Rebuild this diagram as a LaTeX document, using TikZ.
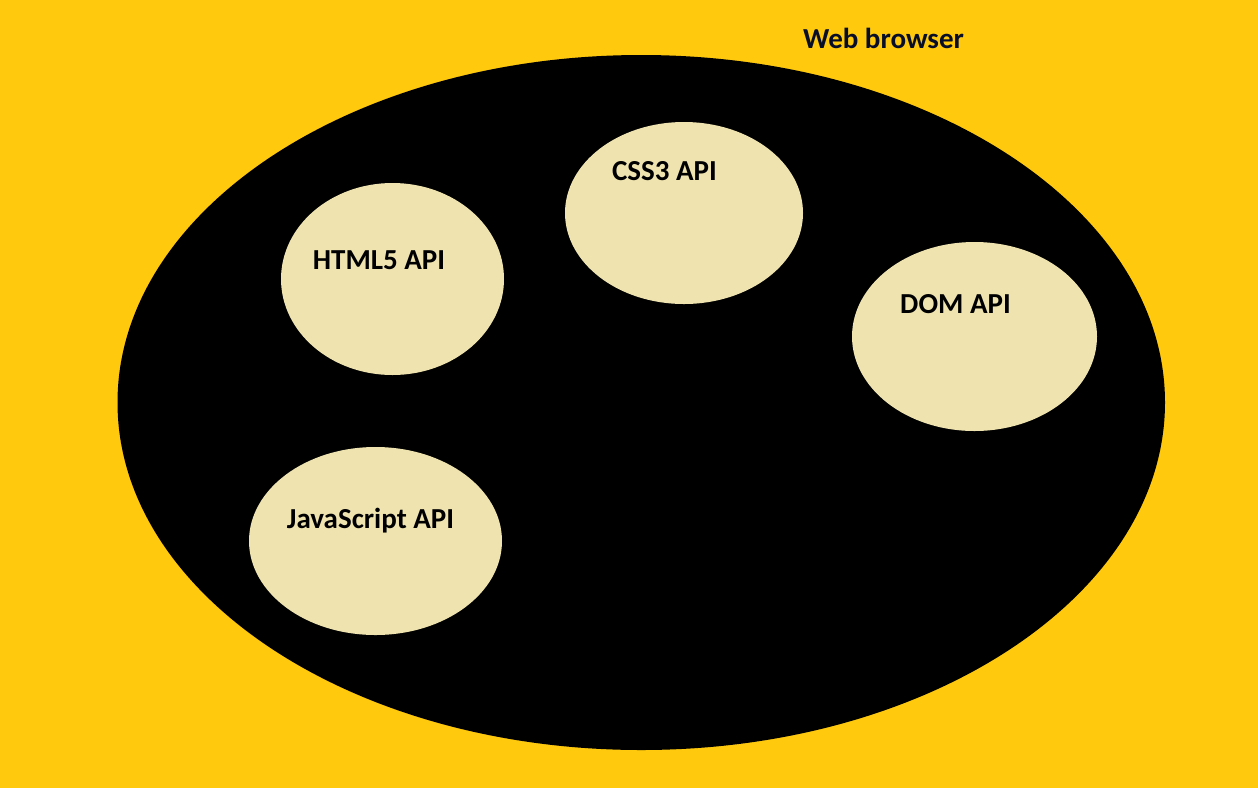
\documentclass[tikz,border=0pt]{standalone}
\usepackage{fontspec}
\setmainfont{Carlito}
\usetikzlibrary{shapes.geometric}
\definecolor{bgyellow}{RGB}{255,201,14}
\definecolor{cream}{RGB}{239,228,176}
\definecolor{navytext}{RGB}{8,14,40}
\tikzset{
  browser/.style={ellipse, fill=black, draw=none, inner sep=0pt},
  api/.style={ellipse, fill=cream, draw=none, inner sep=0pt},
  lbl/.style={anchor=base, inner sep=0pt, font=\fontsize{29}{32}\selectfont\bfseries, text=black},
}
\begin{document}
\begin{tikzpicture}[x=1pt,y=1pt]
\fill[bgyellow] (0,0) rectangle (1258,-788);
\useasboundingbox (0,0) rectangle (1258,-788);
\node[browser, minimum width=1047.5pt, minimum height=695pt] (web) at (641.25,-402.5) {};
\node[lbl, text=navytext] (webl) at (883.5,-48.3) {Web browser};
\node[api, minimum width=238pt, minimum height=182pt] (css) at (684,-213) {};
\node[api, minimum width=223pt, minimum height=192pt] (html) at (392.5,-279) {};
\node[api, minimum width=245pt, minimum height=189pt] (dom) at (974.5,-336.5) {};
\node[api, minimum width=253pt, minimum height=188pt] (js) at (375.5,-541) {};
\node[lbl] (cssl) at (664.5,-180.7) {CSS3 API};
\node[lbl] (htmll) at (379,-269.3) {HTML5 API};
\node[lbl] (doml) at (955.5,-313.3) {DOM API};
\node[lbl] (jsl) at (370.5,-528.3) {JavaScript API};
\end{tikzpicture}
\end{document}
